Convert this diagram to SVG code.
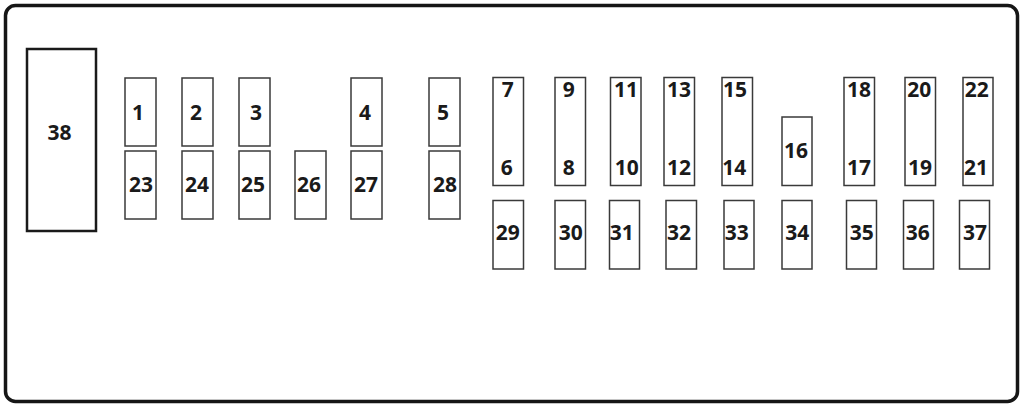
<svg xmlns="http://www.w3.org/2000/svg" width="1024" height="407" viewBox="0 0 1024 407">
<style>
.f{fill:#fff;stroke:#3a3a3a;stroke-width:1.5}
.big{fill:#fff;stroke:#1a1a1a;stroke-width:2.5}
.t{font-family:"Open Sans","Liberation Sans",sans-serif;font-weight:700;font-size:21px;fill:#1a1a1a;text-anchor:middle}
</style>
<rect width="1024" height="407" fill="#fff"/>
<g id="frame"><rect x="5.5" y="5.5" width="1012" height="396" rx="10" fill="#fff" stroke="#161616" stroke-width="3.5"/></g>
<g id="f38"><rect class="big" x="27" y="49" width="69" height="182"/><text class="t" x="59.5" y="140">38</text></g>
<g id="f1"><rect class="f" x="125" y="78" width="31" height="68"/><text class="t" x="138" y="120">1</text></g>
<g id="f2"><rect class="f" x="182" y="78" width="31" height="68"/><text class="t" x="196" y="120">2</text></g>
<g id="f3"><rect class="f" x="239" y="78" width="31" height="68"/><text class="t" x="256" y="120">3</text></g>
<g id="f4"><rect class="f" x="351" y="78" width="31" height="68"/><text class="t" x="365" y="120">4</text></g>
<g id="f5"><rect class="f" x="429" y="78" width="31" height="68"/><text class="t" x="443" y="120">5</text></g>
<g id="f23"><rect class="f" x="125" y="151" width="31" height="68"/><text class="t" x="141" y="192">23</text></g>
<g id="f24"><rect class="f" x="182" y="151" width="31" height="68"/><text class="t" x="197" y="192">24</text></g>
<g id="f25"><rect class="f" x="239" y="151" width="31" height="68"/><text class="t" x="253" y="192">25</text></g>
<g id="f26"><rect class="f" x="295" y="151" width="31" height="68"/><text class="t" x="309" y="192">26</text></g>
<g id="f27"><rect class="f" x="351" y="151" width="31" height="68"/><text class="t" x="366" y="192">27</text></g>
<g id="f28"><rect class="f" x="429" y="151" width="31" height="68"/><text class="t" x="445" y="192">28</text></g>
<g id="f7-6"><rect class="f" x="493" y="77.5" width="30.5" height="108"/><text class="t" x="507.7" y="97">7</text><text class="t" x="506.7" y="175">6</text></g>
<g id="f9-8"><rect class="f" x="555" y="77.5" width="30.5" height="108"/><text class="t" x="568.7" y="97">9</text><text class="t" x="568.7" y="175">8</text></g>
<g id="f11-10"><rect class="f" x="610.5" y="77.5" width="30.5" height="108"/><text class="t" x="626" y="97">11</text><text class="t" x="626.7" y="175">10</text></g>
<g id="f13-12"><rect class="f" x="664" y="77.5" width="30.5" height="108"/><text class="t" x="679" y="97">13</text><text class="t" x="679" y="175">12</text></g>
<g id="f15-14"><rect class="f" x="722" y="77.5" width="30.5" height="108"/><text class="t" x="735" y="97">15</text><text class="t" x="734.3" y="175">14</text></g>
<g id="f16"><rect class="f" x="782" y="117" width="30" height="68.5"/><text class="t" x="796" y="158">16</text></g>
<g id="f18-17"><rect class="f" x="844" y="77.5" width="30.5" height="108"/><text class="t" x="859" y="97">18</text><text class="t" x="859" y="175">17</text></g>
<g id="f20-19"><rect class="f" x="905" y="77.5" width="30.5" height="108"/><text class="t" x="919.3" y="97">20</text><text class="t" x="920" y="175">19</text></g>
<g id="f22-21"><rect class="f" x="963" y="77.5" width="30" height="108"/><text class="t" x="976.7" y="97">22</text><text class="t" x="976" y="175">21</text></g>
<g id="f29"><rect class="f" x="493" y="200.5" width="30.5" height="68.5"/><text class="t" x="507.7" y="240">29</text></g>
<g id="f30"><rect class="f" x="555" y="200.5" width="30.5" height="68.5"/><text class="t" x="570.7" y="240">30</text></g>
<g id="f31"><rect class="f" x="609.5" y="200.5" width="30" height="68.5"/><text class="t" x="621.7" y="240">31</text></g>
<g id="f32"><rect class="f" x="666" y="200.5" width="30.5" height="68.5"/><text class="t" x="679" y="240">32</text></g>
<g id="f33"><rect class="f" x="724" y="200.5" width="30" height="68.5"/><text class="t" x="736.7" y="240">33</text></g>
<g id="f34"><rect class="f" x="782" y="200.5" width="30" height="68.5"/><text class="t" x="797.3" y="240">34</text></g>
<g id="f35"><rect class="f" x="846.5" y="200.5" width="30" height="68.5"/><text class="t" x="861.7" y="240">35</text></g>
<g id="f36"><rect class="f" x="903.5" y="200.5" width="30" height="68.5"/><text class="t" x="917.7" y="240">36</text></g>
<g id="f37"><rect class="f" x="959.5" y="200.5" width="30" height="68.5"/><text class="t" x="975" y="240">37</text></g>
<g id="connectors"></g>
</svg>
